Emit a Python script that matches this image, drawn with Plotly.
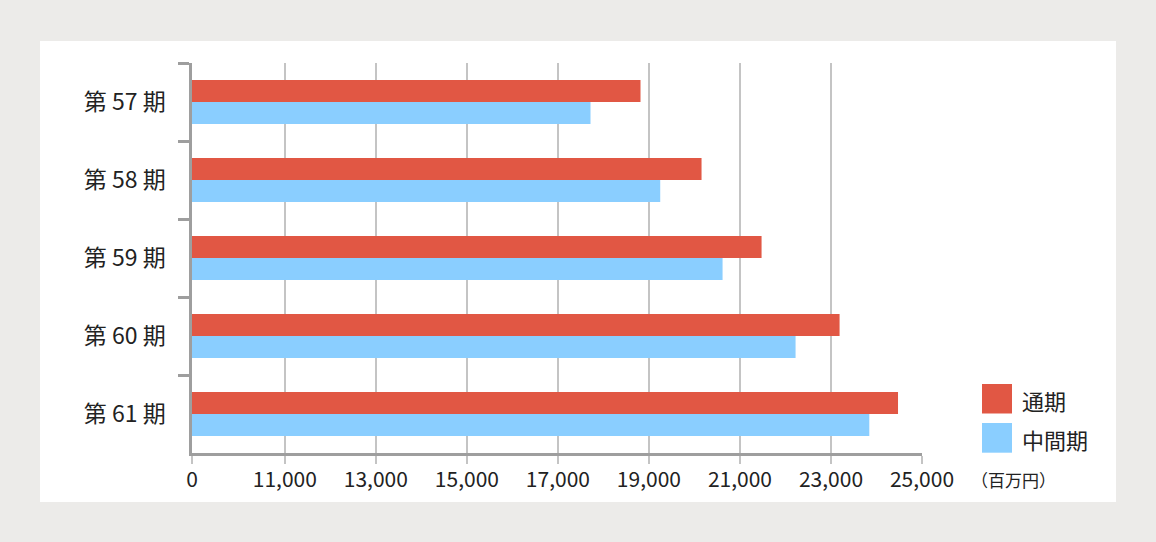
import plotly.graph_objects as go

# ---- data ----
periods = ["第 57 期", "第 58 期", "第 59 期", "第 60 期", "第 61 期"]
full_year = [18815, 20156, 21475, 23189, 24473]      # 通期
interim = [17716, 19248, 20618, 22222, 23842]        # 中間期
series_names = ["通期", "中間期"]
x_tick_vals = [8960, 11000, 13000, 15000, 17000, 19000, 21000, 23000, 25000]
x_tick_text = ["0", "11,000", "13,000", "15,000", "17,000", "19,000", "21,000", "23,000", "25,000"]
unit_label = "（百万円）"

RED = "#E15744"
BLUE = "#8ACEFF"
FONT = "Noto Sans CJK JP"
TXT = "#222222"

W, H = 1156, 542
L, R, T, B = 192, 234, 63, 89
PW, PH = W - L - R, H - T - B


def px(p):
    return (p - L) / PW


def py(p):
    return 1 - (p - T) / PH


fig = go.Figure()
fig.add_trace(go.Bar(y=periods, x=full_year, name=series_names[0], orientation="h",
                     marker=dict(color=RED, line=dict(width=0)), showlegend=False))
fig.add_trace(go.Bar(y=periods, x=interim, name=series_names[1], orientation="h",
                     marker=dict(color=BLUE, line=dict(width=0)), showlegend=False))

shapes = [
    dict(type="rect", xref="paper", yref="paper", x0=px(40), x1=px(1116), y0=py(502), y1=py(41),
         fillcolor="white", line=dict(width=0), layer="below"),
    dict(type="rect", xref="paper", yref="paper", x0=px(982), x1=px(1012), y0=py(413.5), y1=py(384),
         fillcolor=RED, line=dict(width=0)),
    dict(type="rect", xref="paper", yref="paper", x0=px(982), x1=px(1012), y0=py(452.7), y1=py(423),
         fillcolor=BLUE, line=dict(width=0)),
]
annotations = [
    dict(xref="paper", yref="paper", x=px(1020), y=py(399.5), text=series_names[0], showarrow=False,
         xanchor="left", yanchor="middle", font=dict(family=FONT, size=22, color=TXT)),
    dict(xref="paper", yref="paper", x=px(1020), y=py(438.5), text=series_names[1], showarrow=False,
         xanchor="left", yanchor="middle", font=dict(family=FONT, size=22, color=TXT)),
    dict(xref="paper", yref="paper", x=px(1013), y=py(479), text=unit_label, showarrow=False,
         xanchor="center", yanchor="middle", font=dict(family=FONT, size=17, color=TXT)),
]

fig.update_layout(
    width=W, height=H,
    margin=dict(l=L, r=R, t=T, b=B, pad=0),
    paper_bgcolor="#ECEBE9",
    plot_bgcolor="white",
    barmode="group",
    bargap=0.436,
    bargroupgap=0,
    shapes=shapes,
    annotations=annotations,
    font=dict(family=FONT, color=TXT),
    xaxis=dict(
        range=[x_tick_vals[0], 25000],
        tickmode="array", tickvals=x_tick_vals, ticktext=x_tick_text,
        showgrid=True, gridcolor="#C4C4C4", gridwidth=1.5,
        zeroline=False,
        showline=True, linecolor="#9E9E9E", linewidth=2.5,
        ticks="outside", ticklen=8, tickcolor="#C4C4C4", tickwidth=1.5,
        tickfont=dict(family=FONT, size=21, color=TXT),
        ticklabelstandoff=-2,
        fixedrange=True,
    ),
    yaxis=dict(
        autorange="reversed",
        showgrid=False, zeroline=False,
        showline=True, linecolor="#9E9E9E", linewidth=2.5,
        ticks="outside", tickson="boundaries", ticklen=11, tickcolor="#9E9E9E", tickwidth=2.5,
        tickfont=dict(family=FONT, size=23, color=TXT),
        ticklabelstandoff=19,
        fixedrange=True,
    ),
)

fig.write_html("out.html")
